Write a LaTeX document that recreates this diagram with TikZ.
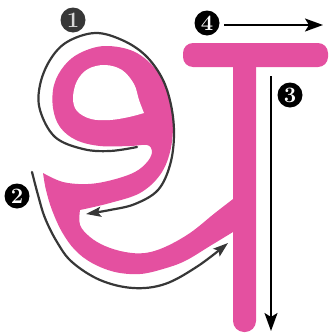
\documentclass[tikz,border=0pt]{standalone}
\usetikzlibrary{arrows.meta}
\definecolor{inkpink}{RGB}{228,80,160}
\definecolor{guide}{RGB}{55,55,55}
\definecolor{badgegray}{RGB}{55,55,55}
\definecolor{badgetext}{RGB}{215,215,215}
\begin{document}
\begin{tikzpicture}[x=1pt,y=-1pt,
  letter/.style={fill=inkpink},
  guideline/.style={draw=guide, line width=2.2pt, line cap=round},
  grayhead/.style={-{Stealth[length=15pt,width=10pt,inset=3pt]}},
  blackarrow/.style={draw=black, line width=2pt, -{Stealth[length=18pt,width=13pt,inset=4pt]}},
  badge/.style={circle, fill=black, text=white, minimum size=25pt, inner sep=0pt, font=\fontsize{22}{22}\selectfont\bfseries},
]
\useasboundingbox (0,0) rectangle (330,335);

% top bar and stem
\fill[letter, rounded corners=10pt] (183,43) rectangle (328,67);
\fill[letter, rounded corners=11pt] (233,50) rectangle (256,332);

% loop and bowl
\fill[letter]
 plot[smooth, tension=0.6] coordinates {(43,173) (63,182) (88,184) (112,180) (135,172) (148,161) (152,151) (147,145) (130,146) (100,146) (76,140) (60,127) (53,108) (54,85) (64,66) (80,53) (105,46) (135,52) (158,72) (170,98) (173,125) (170,152) (160,175) (140,193) (110,203) (80,210)}
 -- plot[smooth, tension=0.6] coordinates {(80,210) (80,225) (90,237) (105,246) (125,252) (145,253) (165,247) (190,233) (215,213) (237,196)}
 -- (250,196) -- (250,235) --
 plot[smooth, tension=0.6] coordinates {(233,232) (210,246) (185,261) (163,269) (140,274) (115,272) (92,263) (75,250) (62,232) (52,210) (46,190) (43,173)}
 -- cycle;

% hole of the loop
\fill[white] plot[smooth, tension=0.6] coordinates {(144,113) (139,100) (134,84) (122,70) (105,65) (88,69) (77,81) (73,98) (77,111) (91,119) (110,120) (129,117) (144,113)} -- cycle;

% guide arrows
\draw[guideline, grayhead] plot[smooth, tension=0.6] coordinates {(137,147) (110,151) (83,149) (55,137) (40,110) (40,85) (50,60) (67,42) (95,33) (122,40) (145,55) (162,78) (171,105) (174,135) (170,165) (158,190) (135,204) (110,210) (86,214)};
\draw[guideline, grayhead] plot[smooth, tension=0.6] coordinates {(32,172) (38,195) (45,218) (57,242) (72,262) (100,280) (133,288) (165,284) (198,266) (228,243)};

\coordinate (a4s) at (224,25);
\coordinate (a4e) at (323,25);
\coordinate (a3s) at (271,76);
\coordinate (a3e) at (271,331);
\draw[blackarrow] (a4s) -- (a4e);
\draw[blackarrow] (a3s) -- (a3e);

% badges
\node[badge, fill=badgegray, text=badgetext] (n1) at (73,20) {1};
\node[badge] (n2) at (17,196) {2};
\node[badge] (n3) at (290,95) {3};
\node[badge] (n4) at (207,23) {4};
\end{tikzpicture}
\end{document}
